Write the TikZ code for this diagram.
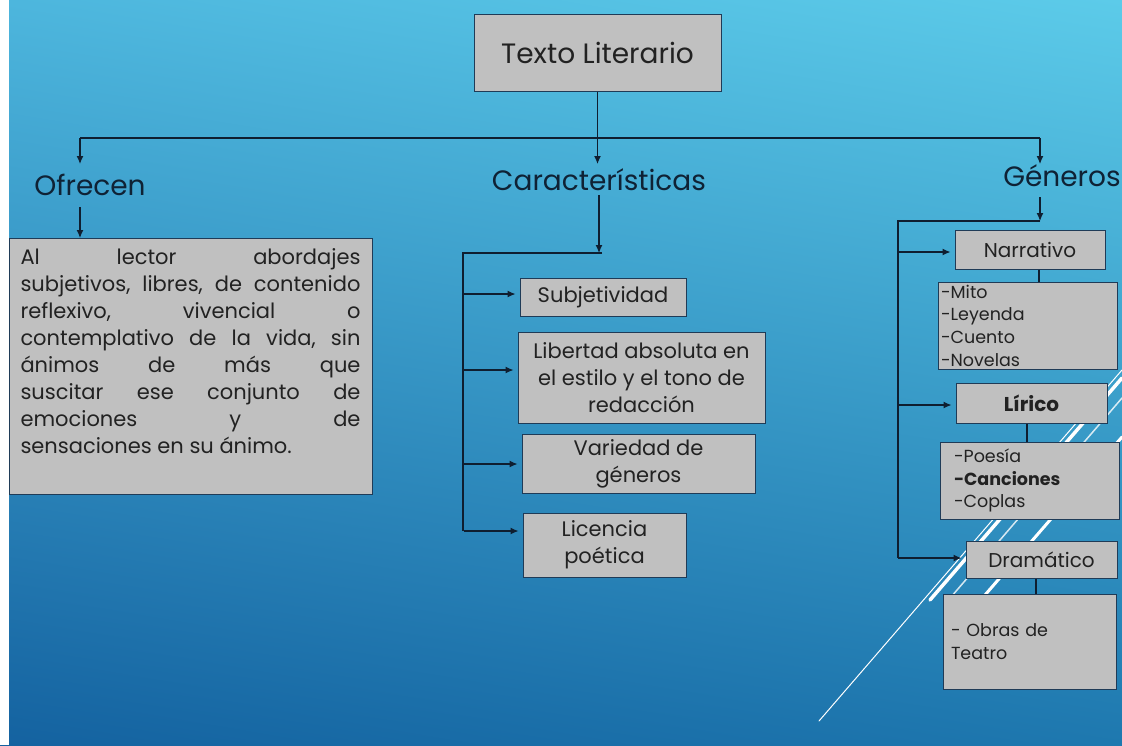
\documentclass[tikz,border=0pt]{standalone}
\usepackage{fontspec}
\setmainfont{Poppins}
\usetikzlibrary{arrows.meta,shadings}
\definecolor{bgTL}{HTML}{4DB6DD}
\definecolor{bgTR}{HTML}{5CCBE9}
\definecolor{bgBL}{HTML}{1462A0}
\definecolor{bgBR}{HTML}{1E78AF}
\definecolor{boxline}{HTML}{1F3B57}
\definecolor{boxfill}{HTML}{C0C0C0}
\definecolor{boxtext}{HTML}{222222}
\definecolor{labtext}{HTML}{0F2235}
\definecolor{linecol}{HTML}{0F1E30}
\begin{document}
\begin{tikzpicture}[x=1pt,y=-1pt,
  gbox/.style={draw=boxline, fill=boxfill, line width=1pt, inner sep=0pt, align=center,
    text=boxtext, font=\fontsize{21}{27}\selectfont},
  lbox/.style={gbox, align=left, font=\fontsize{17.5}{22.7}\selectfont},
  lab/.style={text=labtext, inner sep=0pt, font=\fontsize{28}{34}\selectfont},
  arr/.style={draw=linecol, line width=1.2pt, -{Latex[length=8pt,width=7pt]}},
  ln/.style={draw=linecol, line width=1.2pt},
  deco/.style={draw=white, line cap=round}
]
\useasboundingbox (0,0) rectangle (1122,745);
\shade[upper left=bgTL, upper right=bgTR, lower left=bgBL, lower right=bgBR] (0,0) rectangle (1122,745);
\fill[white] (0,0) rectangle (8.5,745);
% decorative diagonal lines
\draw[deco, line width=1pt] (819,721) -- (1122,370);
\draw[deco, line width=3.5pt] (930,600) -- (1122,378);
\draw[deco, line width=1.5pt, opacity=.8] (945,604) -- (1122,398);
\draw[deco, line width=3pt] (985,595) -- (1122,437);

% title
\node[gbox, minimum width=247, minimum height=77, font=\fontsize{28}{34}\selectfont] (title) at (597.5,52.5) {Texto Literario};

% section labels
\node[lab] (ofr) at (90,185) {Ofrecen};
\node[lab] (car) at (599,180) {Características};
\node[lab] (gen) at (1062,176) {Géneros};

% top connectors
\coordinate (barL) at (80,138);
\coordinate (barR) at (1040,138);
\draw[ln] (title.south) -- (title.south |- barL);
\draw[ln] (barL) -- (barR);
\draw[arr] (barL) -- (80,164);
\draw[arr] (title.south |- barL) -- (title.south |- 0,164);
\draw[arr] (barR) -- (1040,164);

% Ofrecen box
\node[gbox, anchor=north west, minimum width=363, minimum height=256, inner xsep=11.5pt, inner ysep=0pt, align=left] (ofbox) at (8.5,238)
{\parbox[c][256pt][t]{340pt}{\fontsize{21}{27}\selectfont\vspace*{10pt}%
\hbox to 340pt{Al\hfill lector\hfill abordajes}%
\hbox to 340pt{subjetivos,\hfill libres,\hfill de\hfill contenido}%
\hbox to 340pt{reflexivo,\hfill vivencial\hfill o}%
\hbox to 340pt{contemplativo\hfill de\hfill la\hfill vida,\hfill sin}%
\hbox to 340pt{ánimos\hfill de\hfill más\hfill que}%
\hbox to 340pt{suscitar\hfill ese\hfill conjunto\hfill de}%
\hbox to 340pt{emociones\hfill y\hfill de}%
\hbox{sensaciones en su ánimo.}}};
\draw[arr] (80,207) -- (80,0 |- ofbox.north);

% Caracteristicas branch
\coordinate (chub) at (599,253);
\coordinate (cL) at (463,253);
\draw[arr] ([yshift=-4pt]car.south) -- (chub);
\draw[ln] (602,253) -- (cL) -- (463,531);

\node[gbox, minimum width=166, minimum height=38] (sub) at (603,297) {Subjetividad};
\node[gbox, minimum width=247, minimum height=91] (lib) at (641.5,377.5) {Libertad absoluta en\\el estilo y el tono de\\redacción};
\node[gbox, minimum width=233, minimum height=59] (var) at (638.5,464) {Variedad de\\géneros};
\node[gbox, minimum width=163, minimum height=64] (lic) at (604.5,545) {Licencia\\poética};

\coordinate (c1) at (463,294);
\coordinate (c2) at (463,370);
\coordinate (c3) at (463,464);
\coordinate (c4) at (463,531);
\draw[arr] ([xshift=1pt]c1) -- ([xshift=-4pt]c1 -| sub.west);
\draw[arr] ([xshift=1pt]c2) -- ([xshift=-4pt]c2 -| lib.west);
\draw[arr] ([xshift=1pt]c3) -- ([xshift=-4pt]c3 -| var.west);
\draw[arr] ([xshift=1pt]c4) -- ([xshift=-4pt]c4 -| lic.west);

% Generos branch
\coordinate (ghub) at (1040,221);
\coordinate (gL) at (898,221);
\draw[arr] (1040,197) -- (ghub);
\draw[ln] (ghub) -- (gL) -- (898,558);

\node[gbox, minimum width=150, minimum height=39, font=\fontsize{20}{26}\selectfont] (nar) at (1030,249.5) {Narrativo};
\node[lbox, minimum width=179, minimum height=87, text width=173pt, inner xsep=3pt] (narl) at (1027.5,325.5) {-Mito\\-Leyenda\\-Cuento\\-Novelas};
\node[gbox, minimum width=151, minimum height=40, font=\bfseries\fontsize{20}{26}\selectfont] (lir) at (1031.5,403) {Lírico};
\node[lbox, minimum width=179, minimum height=77, text width=151pt, inner xsep=14pt] (lirl) at (1029.5,480.5) {-Poesía\\\textbf{-Canciones}\\-Coplas};
\node[gbox, minimum width=151, minimum height=37, font=\fontsize{20}{26}\selectfont] (dra) at (1041.5,559.5) {Dramático};
\node[lbox, minimum width=173, minimum height=95, text width=157pt, inner xsep=8pt] (obr) at (1029.5,641.5) {- Obras de\\Teatro};

\coordinate (g1) at (898,252);
\coordinate (g2) at (898,405);
\coordinate (g3) at (898,558);
\draw[arr] (g1) -- ([xshift=-4pt]g1 -| nar.west);
\draw[arr] (g2) -- ([xshift=-4pt]g2 -| lir.west);
\draw[arr] (g3) -- ([xshift=-4pt]g3 -| dra.west);

\draw[ln] (1039,0 |- nar.south) -- (1039,0 |- narl.north);
\draw[ln] (1027,0 |- lir.south) -- (1027,0 |- lirl.north);
\draw[ln] (1036,0 |- dra.south) -- (1036,0 |- obr.north);
\end{tikzpicture}
\end{document}
